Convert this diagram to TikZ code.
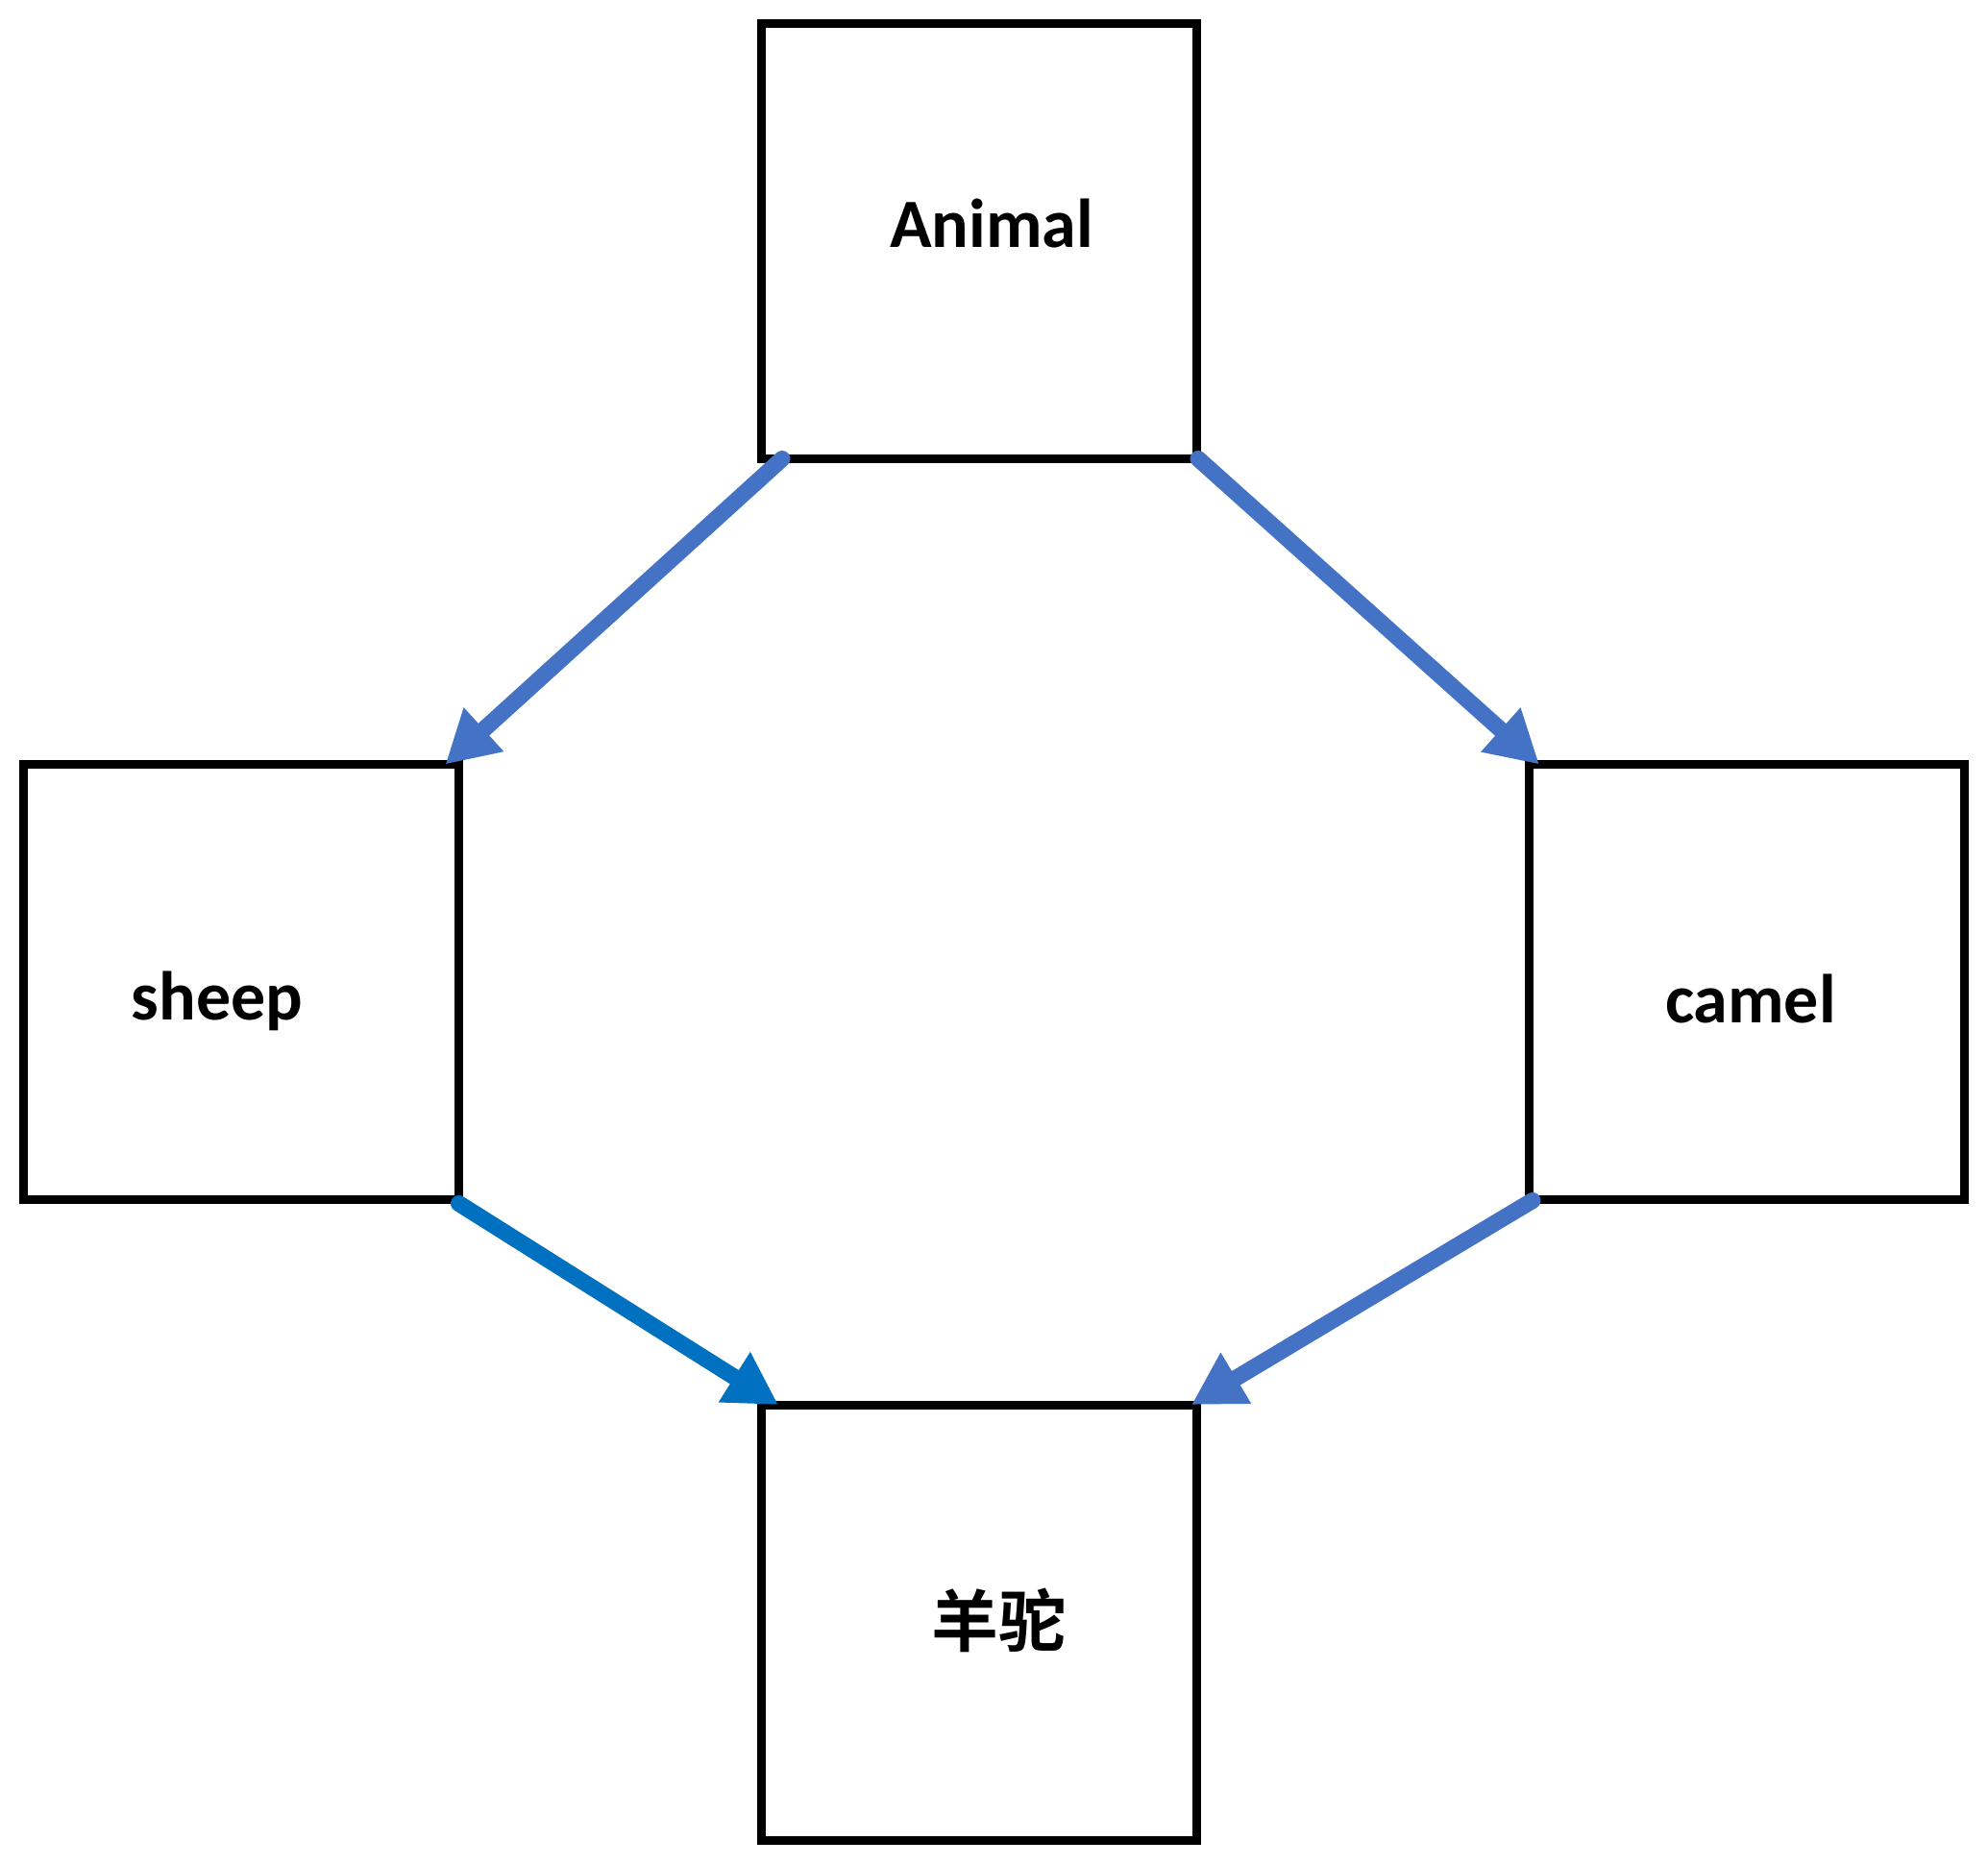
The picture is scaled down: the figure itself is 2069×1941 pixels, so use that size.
\documentclass[tikz,border=0pt]{standalone}
\usepackage{fontspec}
\setmainfont{Carlito}
\newfontfamily\cjk{Noto Sans CJK SC}[BoldFont={Noto Sans CJK SC Bold}]
\usetikzlibrary{arrows.meta}
\definecolor{arrblue}{HTML}{4472C4}
\definecolor{arrdark}{HTML}{0070C0}
\tikzset{
  box/.style={draw=black, line width=4.5pt, minimum width=226.5pt, minimum height=226.5pt, inner sep=0pt, outer sep=0pt},
  lbl/.style={anchor=base, inner sep=0pt, font=\bfseries\fontsize{36pt}{40pt}\selectfont},
  arr/.style={line width=8.5pt, line cap=round, draw=arrblue, -{Triangle[length=27pt, width=29pt]}}
}
\begin{document}
\begin{tikzpicture}[x=0.5pt, y=-0.5pt]
\useasboundingbox (0,0) rectangle (2069,1941);
\node[box] (A) at (1018.5,251) {};
\node[box] (S) at (251,1022) {};
\node[box] (C) at (1817.5,1022) {};
\node[box] (L) at (1018.5,1688.5) {};
\node[lbl] (tA) at (1032,258) {Animal};
\node[lbl] (tS) at (226,1061) {sheep};
\node[lbl] (tC) at (1822,1065) {camel};
\node[lbl, font=\cjk\bfseries\fontsize{35pt}{40pt}\selectfont] (tL) at (1039,1713) {羊驼};
\draw[arr] ([xshift=11pt]A.south west) -- ([xshift=-7pt]S.north east);
\draw[arr] ([xshift=1pt]A.south east) -- ([xshift=5.5pt]C.north west);
\draw[arr, draw=arrdark] ([yshift=-2pt]S.south east) -- ([xshift=9pt]L.north west);
\draw[arr] ([xshift=2pt,yshift=-0.5pt]C.south west) -- ([xshift=-2.5pt]L.north east);
\end{tikzpicture}
\end{document}
